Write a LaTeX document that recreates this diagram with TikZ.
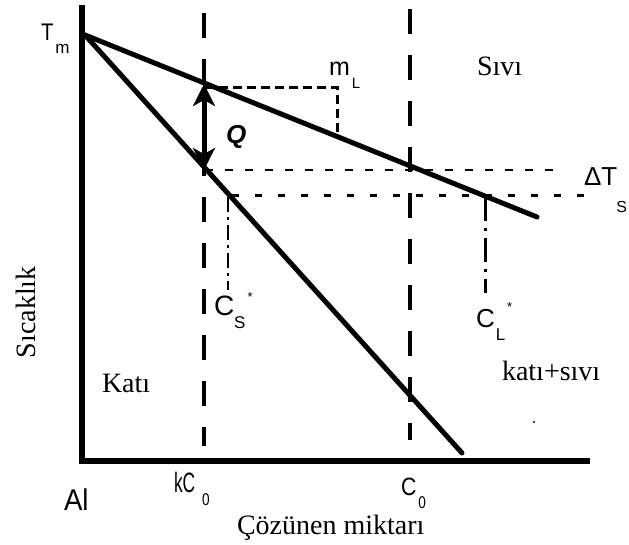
\documentclass[tikz,border=0pt]{standalone}
\usepackage{graphicx}
\usepackage{fontspec}
\setmainfont{Liberation Serif}
\setsansfont{Liberation Sans}
\usetikzlibrary{arrows.meta}
\newcommand{\fsz}[1]{\fontsize{#1}{#1}\selectfont}
\newcommand{\sfl}[1]{\fontsize{#1}{#1}\selectfont\sffamily}
\begin{document}
\begin{tikzpicture}[x=1pt,y=-1pt,
  lbl/.style={anchor=base west, inner sep=0pt, outer sep=0pt},
  axisline/.style={line width=6.5pt, line join=miter, line cap=butt},
  curveline/.style={line width=5pt, line cap=round},
  vdash/.style={line width=3.5pt, dash pattern=on 25pt off 21pt},
  dotA/.style={line width=3pt, dash pattern=on 9pt off 5pt},
  dashB/.style={line width=2pt, dash pattern=on 8pt off 12pt},
  dotC/.style={line width=3pt, dash pattern=on 7pt off 16pt},
  ddot/.style={line width=2.5pt, dash pattern=on 15pt off 5pt on 3pt off 5pt},
  ddotL/.style={line width=3pt, dash pattern=on 24pt off 7pt on 3pt off 7pt},
  dblarrow/.style={line width=5pt, {Stealth[length=22pt,width=22pt,inset=6pt]}-{Stealth[length=22pt,width=22pt,inset=6pt]}}
]
\useasboundingbox (0,0) rectangle (629,544);
\fill[white] (0,0) rectangle (629,544);

% key points
\coordinate (ytop) at (82,5);
\coordinate (origin) at (82,461);
\coordinate (xend) at (590,461);
\coordinate (tmpt) at (85,35);
\coordinate (liqend) at (537,217);
\coordinate (solend) at (462,453);
\coordinate (kctop) at (204,13);
\coordinate (kcbot) at (204,446);
\coordinate (ctop) at (410,9);
\coordinate (cbot) at (410,440);
\coordinate (qtop) at (204,84);
\coordinate (qbot) at (204,170);
\coordinate (mla) at (205,87);
\coordinate (mlb) at (337,87);
\coordinate (mlc) at (337,134);
\coordinate (dta) at (205,170);
\coordinate (dtb) at (562,170);
\coordinate (dsa) at (232,195);
\coordinate (dsb) at (593,195);
\coordinate (csa) at (228,197);
\coordinate (csb) at (228,290);
\coordinate (cla) at (485,197);
\coordinate (clb) at (485,293);
\coordinate (dotpt) at (534,422);

% dashed verticals
\draw[vdash] (kctop) -- (kcbot);
\draw[vdash] (ctop) -- (cbot);

% dotted / dashed guides
\draw[dotA] (mla) -- (mlb) -- (mlc);
\draw[dashB] (dta) -- (dtb);
\draw[dotC] (dsa) -- (dsb);
\draw[ddot] (csa) -- (csb);
\draw[ddotL] (cla) -- (clb);

% liquidus and solidus
\draw[curveline] (tmpt) -- (liqend);
\draw[curveline] (tmpt) -- (solend);

% axes
\draw[axisline] (ytop) -- (origin) -- (xend);

% double arrow
\draw[dblarrow] (qtop) -- (qbot);

\fill (dotpt) circle (1.2pt);

% labels (sans)
\node[lbl] (tm) at (41,40) {\sfl{24}\scalebox{0.85}[1]{T}\hspace{2pt}\raisebox{-13pt}{\sfl{17}m}};
\node[lbl] (al) at (64,510) {\sfl{30}\scalebox{0.92}[1]{Al}};
\node[lbl] (kc) at (174,492) {\sfl{28}\scalebox{0.62}[1]{kC}\hspace{7pt}\raisebox{-13pt}{\sfl{17}\scalebox{0.8}[1]{0}}};
\node[lbl] (c0) at (401,495) {\sfl{25}\scalebox{0.85}[1]{C}\hspace{2pt}\raisebox{-13pt}{\sfl{17}\scalebox{0.8}[1]{0}}};
\node[lbl] (ml) at (329,75) {\sfl{25}m\hspace{2pt}\raisebox{-13pt}{\sfl{15}L}};
\node[lbl] (dts) at (584,185) {\sfl{26}ΔT\hspace{-1pt}\raisebox{-27pt}{\sfl{16}S}};
\node[lbl] (cs) at (214,315) {\sfl{28}C\raisebox{-13pt}{\sfl{17}S}\hspace{2pt}\raisebox{14pt}{\sfl{13}*}};
\node[lbl] (cl) at (476,327) {\sfl{26}C\hspace{1pt}\raisebox{-13pt}{\sfl{17}L}\hspace{2pt}\raisebox{16pt}{\sfl{13}*}};
\node[lbl] (q) at (226,143) {\sfl{26}\bfseries\itshape Q};

% labels (serif)
\node[lbl] (sivi) at (477,75) {\fsz{28}Sıvı};
\node[lbl] (kati) at (102,392) {\fsz{28}Katı};
\node[lbl] (katisivi) at (502,380) {\fsz{28}katı+sıvı};
\node[lbl] (cozunen) at (237,534) {\fsz{28}Çözünen miktarı};
\node[lbl, rotate=90] (sicaklik) at (35,358) {\fsz{28}Sıcaklık};
\end{tikzpicture}
\end{document}
